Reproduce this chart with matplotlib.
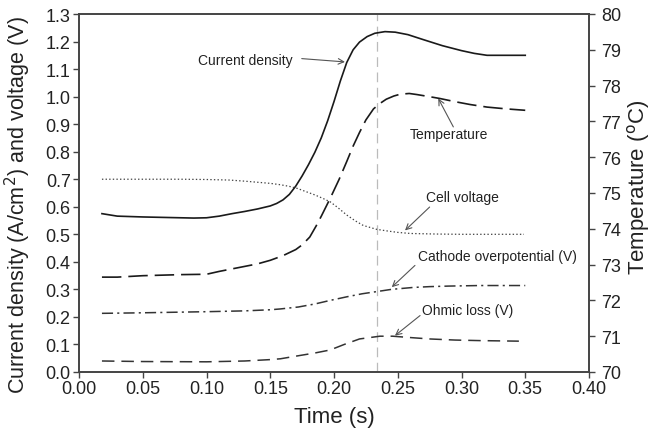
import numpy as np
import matplotlib
matplotlib.use("Agg")
import matplotlib.pyplot as plt
from matplotlib.ticker import FormatStrFormatter

plt.rcParams['font.family'] = ['Liberation Sans', 'DejaVu Sans']
plt.rcParams['lines.scale_dashes'] = False

# current density (A/cm2)
t_cd = [0.018, 0.03, 0.05, 0.07, 0.09, 0.10, 0.11, 0.12, 0.13, 0.14, 0.150, 0.155,
        0.160, 0.165, 0.170, 0.175, 0.180, 0.185, 0.190, 0.195, 0.200, 0.205,
        0.210, 0.215, 0.220, 0.226, 0.232, 0.240, 0.248, 0.258, 0.270, 0.285,
        0.300, 0.310, 0.320, 0.335, 0.350]
cd = [0.575, 0.566, 0.563, 0.561, 0.559, 0.560, 0.566, 0.575, 0.583, 0.592, 0.603, 0.612,
      0.625, 0.645, 0.675, 0.712, 0.753, 0.798, 0.850, 0.912, 0.982, 1.057,
      1.124, 1.170, 1.198, 1.218, 1.230, 1.236, 1.234, 1.225, 1.207, 1.185,
      1.167, 1.157, 1.150, 1.150, 1.150]

# temperature (C)
t_temp = [0.018, 0.03, 0.05, 0.08, 0.10, 0.11, 0.12, 0.13, 0.14, 0.15, 0.16, 0.17,
          0.175, 0.181, 0.186, 0.190, 0.197, 0.204, 0.210, 0.215, 0.220, 0.225,
          0.231, 0.236, 0.241, 0.247, 0.252, 0.259, 0.265, 0.275, 0.283, 0.295,
          0.307, 0.320, 0.335, 0.350]
temp = [72.65, 72.65, 72.69, 72.72, 72.73, 72.81, 72.88, 72.95, 73.02, 73.12, 73.25, 73.42,
        73.55, 73.77, 74.08, 74.35, 74.85, 75.38, 75.88, 76.31, 76.69, 77.04,
        77.35, 77.50, 77.62, 77.71, 77.76, 77.78, 77.75, 77.69, 77.64, 77.55,
        77.47, 77.40, 77.35, 77.31]

# cell voltage (V)
t_cv = [0.018, 0.05, 0.08, 0.10, 0.118, 0.13, 0.14, 0.150, 0.158, 0.165, 0.171, 0.178,
        0.185, 0.191, 0.197, 0.203, 0.210, 0.217, 0.223, 0.2335, 0.242, 0.250,
        0.260, 0.280, 0.300, 0.349]
cv = [0.700, 0.700, 0.700, 0.699, 0.697, 0.693, 0.689, 0.685, 0.680, 0.674, 0.667, 0.655,
      0.643, 0.631, 0.618, 0.597, 0.570, 0.548, 0.532, 0.518, 0.512, 0.507,
      0.503, 0.501, 0.500, 0.500]

# cathode overpotential (V)
t_co = [0.018, 0.05, 0.10, 0.13, 0.15, 0.158, 0.172, 0.185, 0.197, 0.210, 0.222,
        0.2335, 0.245, 0.262, 0.275, 0.29, 0.3145, 0.35]
co = [0.213, 0.215, 0.219, 0.222, 0.226, 0.229, 0.236, 0.247, 0.260, 0.273, 0.284,
      0.292, 0.300, 0.307, 0.310, 0.312, 0.314, 0.314]

# ohmic loss (V)
t_ol = [0.018, 0.05, 0.10, 0.13, 0.15, 0.158, 0.172, 0.185, 0.197, 0.208, 0.22,
        0.236, 0.246, 0.26, 0.275, 0.295, 0.3145, 0.345]
ol = [0.040, 0.038, 0.037, 0.040, 0.045, 0.048, 0.059, 0.069, 0.080, 0.100, 0.120,
      0.130, 0.130, 0.125, 0.120, 0.116, 0.114, 0.112]

t_mark = 0.2335

fig = plt.figure(figsize=(6.55, 4.35), dpi=100)
ax = fig.add_axes([79/655, 1-373/435, 510/655, 358/435])
ax2 = ax.twinx()

lc = '#1a1a1a'
ax.axvline(t_mark, color='#bbbbbb', lw=0.9, dashes=(7, 4), zorder=1)
ax.plot(t_cd, cd, color=lc, lw=1.2)
ax.plot(t_cv, cv, color='#444444', lw=0.9, dashes=(1, 1.6))
ax.plot(t_co, co, color='#333333', lw=1.1, dashes=(8, 3, 1.5, 3))
ax.plot(t_ol, ol, color='#333333', lw=1.1, dashes=(9, 5))
ax2.plot(t_temp, temp, color=lc, lw=1.2, dashes=(14, 5))

ax.set_xlim(0, 0.40)
ax.set_ylim(0, 1.3)
ax2.set_ylim(70, 80)
ax.set_xticks(np.arange(0, 0.401, 0.05))
ax.set_yticks(np.arange(0, 1.301, 0.1))
ax2.set_yticks(np.arange(70, 80.1, 1))
ax.xaxis.set_major_formatter(FormatStrFormatter('%.2f'))
ax.yaxis.set_major_formatter(FormatStrFormatter('%.1f'))

for a in (ax, ax2):
    a.tick_params(direction='out', length=4, width=1, labelsize=13, color='#444444',
                  labelcolor='#222222', pad=2)
    for s in a.spines.values():
        s.set_color('#444444')
        s.set_linewidth(1.2)
ax2.tick_params(pad=5)

ax.set_xlabel('Time (s)', fontsize=16, color='#222222', labelpad=6)
ax.set_ylabel('Current density (A/cm$^2$) and voltage (V)', fontsize=15.5, color='#222222')
ax.yaxis.set_label_coords(-0.09, 0.47)
ax2.set_ylabel('Temperature ($^{\\rm o}$C)', fontsize=16, color='#222222')
ax2.yaxis.set_label_coords(1.07, 0.52)

arr = dict(arrowstyle='->', color='#555555', lw=0.8, shrinkA=0, shrinkB=0)
fs = 10
ax.text(0.1678, 1.132, 'Current density', fontsize=fs, ha='right', va='center', color='#222222')
ax.annotate('', xy=(0.2086, 1.126), xytext=(0.1747, 1.138), arrowprops=arr)
ax.text(0.2902, 0.865, 'Temperature', fontsize=fs, ha='center', va='center', color='#222222')
ax.annotate('', xy=(0.2818, 0.993), xytext=(0.2936, 0.890), arrowprops=arr)
ax.text(0.3008, 0.636, 'Cell voltage', fontsize=fs, ha='center', va='center', color='#222222')
ax.annotate('', xy=(0.2557, 0.514), xytext=(0.275, 0.599), arrowprops=arr)
ax.text(0.3278, 0.423, 'Cathode overpotential (V)', fontsize=fs, ha='center', va='center', color='#222222')
ax.annotate('', xy=(0.2453, 0.308), xytext=(0.2635, 0.387), arrowprops=arr)
ax.text(0.3051, 0.2265, 'Ohmic loss (V)', fontsize=fs, ha='center', va='center', color='#222222')
ax.annotate('', xy=(0.2478, 0.132), xytext=(0.2675, 0.205), arrowprops=arr)

fig.savefig('out.png', dpi=100)
